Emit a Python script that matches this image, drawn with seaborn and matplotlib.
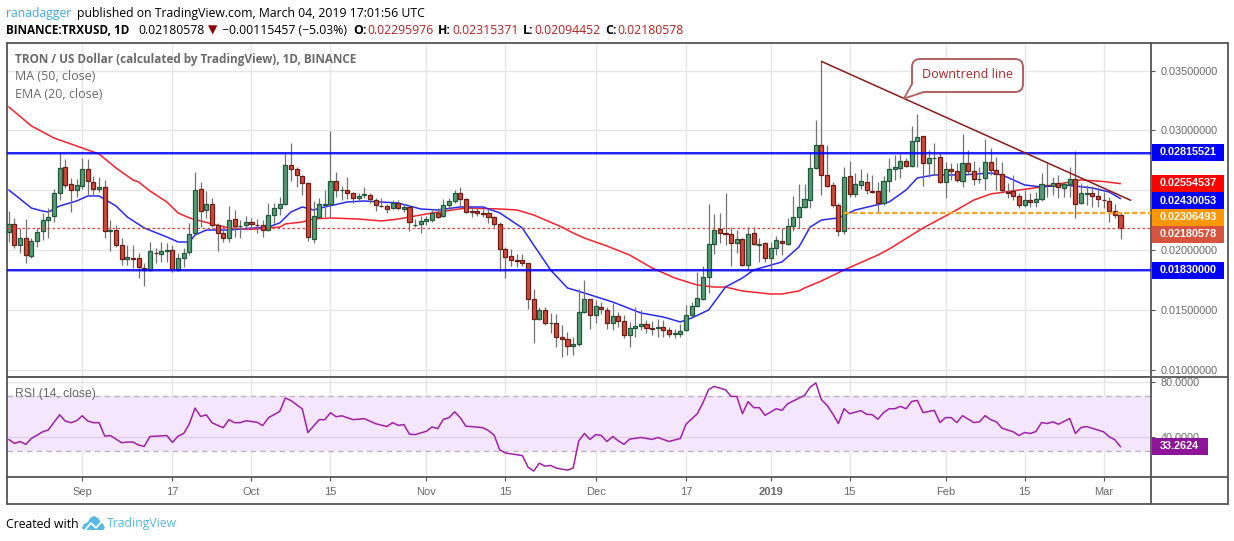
import numpy as np
import pandas as pd
import matplotlib
matplotlib.use('Agg')
import matplotlib.pyplot as plt
from matplotlib.patches import Rectangle, Polygon, FancyBboxPatch
from matplotlib.lines import Line2D
from matplotlib.transforms import IdentityTransform
import seaborn as sns

# daily candles, prices in thousandths of a dollar, first candle is 19 Aug 2018
opens = [21.48,22.15,20.40,20.98,19.53,20.73,21.57,22.49,22.82,24.75,
         26.93,25.50,25.00,25.33,26.76,25.67,25.08,25.25,21.57,21.65,
         20.40,19.22,19.33,19.31,18.47,18.30,19.78,19.64,19.89,19.98,
         18.30,19.31,19.81,21.40,25.08,23.33,23.83,22.07,21.40,20.98,
         22.57,21.99,22.07,22.32,22.12,22.07,21.65,22.91,23.49,23.83,
         27.09,26.76,26.17,25.59,20.90,22.74,23.80,23.83,25.75,24.98,
         25.00,24.75,24.33,24.58,24.58,24.16,23.71,23.66,23.49,23.91,
         23.41,23.58,22.08,22.21,22.41,22.49,23.07,22.82,23.74,24.08,
         24.75,24.25,23.27,23.24,23.09,23.07,22.74,22.15,20.06,19.48,
         19.14,19.14,18.89,15.88,14.20,14.96,13.85,13.87,12.70,12.53,
         11.94,12.11,14.79,15.88,14.54,15.21,14.96,13.87,14.45,14.04,
         12.86,13.45,13.62,13.78,13.46,13.50,13.53,13.28,13.00,12.98,
         13.28,14.54,15.29,15.88,17.72,20.48,21.74,21.40,21.32,20.56,
         20.90,18.72,21.40,20.45,20.56,19.31,20.15,20.73,20.48,21.97,
         22.72,23.56,24.17,26.83,28.75,26.24,25.40,23.73,21.55,26.16,
         24.65,25.40,25.65,24.93,24.90,23.90,25.74,26.74,26.83,27.41,
         26.99,29.09,29.50,27.24,27.66,27.75,25.65,26.74,26.57,25.74,
         27.24,26.57,25.92,25.99,27.33,26.66,26.32,24.87,24.90,24.48,
         23.73,24.15,23.98,24.23,25.46,25.32,25.57,25.15,25.49,25.90,
         23.90,24.70,24.73,24.48,24.20,24.06,23.23,22.96]
closes = [22.15,20.40,20.98,19.56,20.73,21.48,22.49,22.74,24.75,26.84,
          25.42,25.00,25.42,26.76,25.75,25.08,25.25,21.57,21.65,20.40,
          19.22,19.39,19.28,18.56,18.30,19.89,19.72,19.89,19.98,18.39,
          19.31,19.73,21.32,25.00,23.24,23.83,22.07,21.40,20.98,22.49,
          21.99,22.04,22.32,22.15,22.07,21.65,22.91,23.49,23.83,27.09,
          26.76,26.26,25.59,21.07,22.82,23.83,23.83,25.75,25.00,25.02,
          24.75,24.33,24.50,24.67,24.25,23.74,23.66,23.41,23.91,23.49,
          23.58,22.32,22.13,22.41,22.57,23.07,22.80,23.74,24.08,24.75,
          24.25,23.16,23.21,23.07,23.05,22.74,22.21,20.06,19.39,19.14,
          19.09,18.89,15.88,14.20,14.96,13.87,13.90,12.70,12.53,11.94,
          12.11,14.79,15.88,14.54,15.29,15.04,13.87,14.45,14.04,12.86,
          13.45,13.62,13.78,13.45,13.40,13.56,13.28,12.95,13.05,13.20,
          14.54,15.29,15.96,17.72,20.48,21.65,21.40,21.32,20.56,20.90,
          18.72,21.32,20.48,20.50,19.31,20.15,20.81,20.56,21.99,22.72,
          23.56,24.23,26.83,28.75,26.24,25.32,23.73,21.55,26.07,24.68,
          25.49,25.74,24.98,24.87,23.90,25.74,26.74,26.91,27.41,26.99,
          29.09,29.42,27.24,27.66,27.71,25.65,26.74,26.57,25.82,27.24,
          26.57,25.90,25.97,27.33,26.66,26.32,24.98,24.81,24.48,23.73,
          24.15,23.98,24.23,25.49,25.40,25.57,25.24,25.49,25.90,23.81,
          24.73,24.75,24.48,24.23,24.15,23.23,22.96,21.80]
highs = [23.27,22.66,21.82,22.57,20.98,21.82,23.07,23.49,25.08,28.24,
         27.59,26.00,25.92,27.68,27.59,26.20,26.14,25.87,22.52,22.10,
         20.98,20.42,20.42,19.73,18.89,20.65,20.15,20.70,20.56,20.42,
         19.73,20.15,22.24,26.51,25.67,24.94,24.33,22.24,22.10,23.66,
         23.35,22.52,22.85,22.66,22.57,22.52,23.91,23.91,24.47,28.04,
         28.93,26.98,26.28,25.73,24.11,24.33,25.03,29.97,26.51,25.36,
         26.09,24.89,24.80,25.25,24.75,24.33,24.33,23.86,24.19,24.19,
         23.86,23.77,22.57,22.85,22.85,23.41,23.49,24.25,24.33,25.03,
         25.31,24.33,23.58,23.49,23.41,23.41,22.85,22.32,20.23,20.06,
         19.67,19.67,18.95,16.71,15.26,15.26,14.71,14.65,13.70,13.17,
         12.70,16.71,17.49,15.88,15.82,15.68,15.26,15.54,14.85,14.57,
         14.01,15.21,14.99,14.15,14.09,14.20,14.15,13.59,13.37,13.81,
         15.40,15.68,18.19,18.67,23.86,23.02,23.07,24.75,21.96,21.68,
         20.98,21.96,21.90,20.98,20.70,20.70,21.18,21.82,22.66,24.51,
         25.49,25.49,28.22,30.87,35.78,28.78,25.71,23.90,26.96,27.44,
         26.41,26.74,26.41,26.27,25.71,26.18,27.66,27.94,28.03,27.66,
         30.37,31.34,29.53,28.36,28.92,28.08,27.38,27.24,27.24,29.67,
         28.36,27.47,26.96,29.25,28.50,27.75,27.38,25.57,26.27,24.79,
         25.01,24.73,24.87,26.46,27.24,26.13,26.27,25.71,26.96,28.28,
         25.57,25.43,25.35,25.24,24.87,24.45,23.84,23.15]
lows = [20.70,20.15,19.78,18.95,19.36,20.29,20.84,21.04,22.38,24.19,
        25.17,23.21,24.47,25.08,24.61,24.61,24.89,20.98,19.95,20.23,
        18.78,18.78,18.47,17.69,17.02,18.25,18.89,19.03,19.03,18.14,
        18.25,18.56,19.59,21.32,21.96,22.66,21.96,19.95,20.65,20.65,
        21.07,21.04,21.82,21.74,21.40,21.12,21.60,22.24,22.94,23.77,
        25.78,25.31,24.61,20.76,20.62,22.66,22.74,22.80,24.47,24.19,
        24.25,23.97,24.05,24.33,23.91,23.30,23.58,23.13,23.41,23.35,
        23.21,21.60,21.96,21.46,22.10,22.38,22.66,22.74,23.35,23.97,
        23.69,23.07,22.74,22.85,22.74,22.29,21.96,18.28,17.69,18.67,
        18.61,18.67,15.07,12.25,14.15,13.73,13.03,11.91,11.02,11.22,
        11.22,11.97,14.71,13.39,13.92,14.65,13.39,13.31,13.59,12.61,
        11.86,12.75,13.31,13.03,12.89,12.75,12.70,12.70,12.61,12.75,
        13.23,14.43,15.26,15.82,16.38,19.67,20.56,20.42,18.67,19.73,
        18.67,18.33,20.42,19.03,19.03,18.28,19.59,19.59,20.42,21.61,
        21.80,23.48,23.48,26.74,24.57,25.29,23.62,21.19,21.30,24.45,
        24.45,25.07,24.68,24.73,23.12,23.76,24.87,25.85,25.99,26.91,
        26.91,26.96,25.35,26.13,26.27,25.57,24.34,25.85,25.71,25.29,
        26.35,25.43,25.57,25.01,26.27,25.01,24.87,24.31,24.17,23.48,
        23.62,23.62,23.62,24.12,24.45,24.59,24.31,24.45,24.45,22.70,
        23.84,23.76,23.56,23.62,23.48,22.36,22.64,20.94]

# moving averages at these candles
ma_days = [0,4,8,13,16,19,22,23,25,28,30,32,36,39,43,48,49,52,54,57,62,66,69,75,81,87,90,93,
           98,100,102,106,110,114,118,122,125,127,130,135,137,140,141,144,148,154,156,162,
           167,171,174,179,183,188,190,194,197]
ma_values = [31.97,30.38,29.37,28.54,28.03,26.86,25.86,25.69,24.94,24.02,23.10,22.68,22.18,21.84,
             21.73,21.92,22.18,22.34,22.59,22.68,22.59,22.43,22.59,23.10,23.51,23.43,23.35,22.93,
             21.92,21.42,21.00,20.33,19.58,18.49,17.66,17.07,16.90,16.90,16.57,16.32,16.32,16.57,
             16.82,17.41,18.33,19.58,20.08,21.84,23.10,24.18,24.69,25.02,25.27,25.69,25.86,25.73,25.55]
ema_days = [0,2,4,6,7,9,12,14,16,19,21,24,28,30,32,33,35,39,41,46,48,50,52,54,56,60,63,69,73,76,
            80,84,87,91,93,96,99,102,107,112,116,119,121,124,127,130,132,137,140,142,144,147,150,
            156,159,161,164,169,174,176,180,183,187,192,195,197]
ema_values = [25.02,24.27,23.51,23.26,23.18,23.68,24.10,24.52,24.52,23.68,22.76,21.84,21.09,20.67,
              20.67,21.26,21.67,21.67,21.76,21.92,22.26,23.18,23.60,23.35,23.60,24.02,24.10,23.93,
              23.43,23.35,23.60,23.60,23.10,21.84,20.42,18.33,16.82,16.40,15.65,14.73,14.39,13.98,
              14.31,14.98,16.90,17.66,18.33,19.00,20.25,21.92,22.51,22.68,23.35,24.02,25.02,26.03,
              26.28,26.28,26.44,26.28,25.44,25.27,25.44,25.19,24.85,24.30]

rsi_days = [0,1,2,3,4,6,7,9,10,11,12,13,14,15,16,17,18,20,21,22,23,24,25,28,29,30,31,32,33,34,35,
            36,37,38,39,40,41,42,44,45,46,48,49,50,52,53,55,56,57,58,59,61,63,65,67,68,69,70,71,72,
            74,75,76,77,78,79,80,81,82,84,85,86,87,88,91,92,93,94,95,96,97,98,99,100,101,102,103,
            104,105,106,107,108,109,110,112,114,115,117,119,120,122,123,124,125,127,128,129,130,131,
            132,133,134,136,137,138,141,142,143,144,145,146,147,148,149,151,152,153,154,155,156,157,
            158,159,160,161,162,164,165,166,167,168,169,171,172,173,174,175,176,178,179,180,181,182,
            183,184,185,186,188,189,190,191,194,195,196,197]
rsi_values = [38.6,35.7,37.1,35.0,39.3,44.1,45.5,56.4,51.9,50.7,52.1,55.7,51.9,50.7,50.7,41.0,41.4,
              36.2,36.7,36.7,34.5,33.6,40.7,41.4,36.4,41.0,42.9,50.0,61.2,55.2,56.4,50.7,48.8,47.1,
              52.9,50.7,50.7,52.1,51.0,48.6,54.3,58.8,68.6,66.7,60.7,43.6,52.9,52.9,57.9,55.0,55.7,
              52.9,53.6,50.0,47.9,50.7,48.8,49.3,42.4,42.1,44.5,47.6,46.4,53.1,54.3,58.6,54.3,48.1,
              47.9,47.1,45.0,41.7,31.0,28.8,26.9,18.6,15.7,21.4,19.3,19.8,17.9,17.1,16.4,17.9,37.6,
              42.9,38.6,42.1,41.4,37.1,40.7,37.6,35.0,38.8,40.0,38.6,40.0,37.1,39.3,49.6,57.2,65.1,
              74.7,76.9,74.5,69.7,69.7,57.2,65.9,61.6,61.6,56.0,60.8,59.6,64.4,70.4,76.4,79.5,67.3,
              63.2,57.2,50.1,60.8,57.2,59.4,56.8,56.5,53.2,58.0,60.8,60.8,62.5,60.8,66.1,66.8,58.0,
              59.6,50.8,54.4,54.4,50.8,55.8,50.8,51.3,55.8,52.9,51.3,46.7,44.1,41.4,43.6,42.9,44.3,
              50.8,50.1,51.3,49.6,53.7,42.9,47.2,47.9,44.1,40.5,38.3,33.26]

price_ticks = [0.035, 0.030, 0.025, 0.020, 0.015, 0.010]
date_tick_days = [13, 29, 43, 57, 74, 88, 104, 120, 135, 149, 166, 180, 194]
date_tick_labels = ['Sep', '17', 'Oct', '15', 'Nov', '15', 'Dec', '17', '2019', '15', 'Feb', '15', 'Mar']
rsi_ticks = [80, 40]

support_level = 0.0183
resistance_level = 0.02815521
orange_level = 0.02306493
last_close = 0.02180578
trend_days = [144, 198.8]
trend_values = [0.03578, 0.02416]
orange_start_day = 148

GREY = '#6a6a6a'
FRAME = '#555555'
UP = '#5a9a78'
UP_EDGE = '#1f5a3a'
DOWN = '#d0493a'
DOWN_EDGE = '#6e1c16'
CALLOUT = '#b06060'

PANEL_TOP = 43
PANEL_MID = 376.8
PANEL_BOTTOM = 477.3
FRAME_BOTTOM = 504
SCALE_LEFT = 1151
SCALE_RIGHT = 1228


def px(x, y):
    # figure fraction from pixel position, y counted from the top like the screenshot
    return x / 1234, 1 - y / 541


sns.set_style('white')
plt.rcParams['font.family'] = ['Liberation Sans', 'DejaVu Sans']

candles = pd.DataFrame({'open': opens, 'high': highs, 'low': lows, 'close': closes}) * 0.001
candles['day'] = range(len(candles))
candles['bottom'] = candles[['open', 'close']].min(axis=1)
candles['height'] = (candles['close'] - candles['open']).abs().clip(lower=0.00004)
rising = candles['close'] >= candles['open']
ma_line = pd.DataFrame({'day': ma_days, 'price': np.array(ma_values) * 0.001})
ema_line = pd.DataFrame({'day': ema_days, 'price': np.array(ema_values) * 0.001})
rsi_line = pd.DataFrame({'day': rsi_days, 'rsi': rsi_values})

fig = plt.figure(figsize=(12.34, 5.41), dpi=100)
x0, y0 = px(6.5, PANEL_MID)
ax = fig.add_axes([x0, y0, (SCALE_LEFT - 6.5) / 1234, (PANEL_MID - PANEL_TOP) / 541])
x0, y0 = px(6.5, PANEL_BOTTOM)
ax_rsi = fig.add_axes([x0, y0, (SCALE_LEFT - 6.5) / 1234, (PANEL_BOTTOM - PANEL_MID) / 541], sharex=ax)

# price panel
ax.set_xlim(-0.41, 202.4)
ax.set_ylim(0.00939, 0.03732)
ax.grid(True, color='#e6e6e6', lw=1)
ax.set_axisbelow(True)
ax.vlines(candles['day'], candles['low'], candles['high'], color='#737373', lw=0.9, zorder=3)
for mask, face, edge in [(rising, UP, UP_EDGE), (~rising, DOWN, DOWN_EDGE)]:
    part = candles[mask]
    ax.bar(part['day'], part['height'], bottom=part['bottom'], width=0.72,
           color=face, edgecolor=edge, linewidth=0.9, zorder=4)
sns.lineplot(data=ma_line, x='day', y='price', ax=ax, color='#f5222d', lw=1.1, estimator=None, zorder=2.5)
sns.lineplot(data=ema_line, x='day', y='price', ax=ax, color='#2a2af5', lw=1.1, estimator=None, zorder=2.5)
for level in [resistance_level, support_level]:
    ax.axhline(level, color='#0000ff', lw=2.2, alpha=0.4, zorder=5)
    ax.axhline(level, color='#0000ff', lw=1.1, zorder=5)
ax.axhline(last_close, color='#ef3b2c', lw=0.9, ls=(0, (2, 2)), zorder=5)
ax.plot([orange_start_day, 202.4], [orange_level, orange_level], color='#ffa726', lw=1.6,
        ls=(0, (2.4, 1.2)), zorder=5)
ax.plot(trend_days, trend_values, color='#8b1a1a', lw=1.1, zorder=6)

ax.yaxis.tick_right()
ax.set_yticks(price_ticks)
ax.set_yticklabels([f'{t:.8f}' for t in price_ticks], color=GREY, fontsize=7.8)
ax.tick_params(axis='y', length=3, color=FRAME, pad=4, right=True)
ax.tick_params(axis='x', length=0, labelbottom=False)
ax.set_xlabel('')
ax.set_ylabel('')

# rsi panel
ax_rsi.set_ylim(11.2, 83.9)
ax_rsi.grid(True, color='#e6e6e6', lw=1)
ax_rsi.set_axisbelow(True)
ax_rsi.axhspan(30, 70, color='#f3e6fd', zorder=1, lw=0)
ax_rsi.axhline(40, color='#e0cfe8', lw=1, zorder=1.5)
ax_rsi.axhline(70, color='#c2afc8', lw=1, ls=(0, (4, 3)), zorder=1.5)
ax_rsi.axhline(30, color='#c2afc8', lw=1, ls=(0, (4, 3)), zorder=1.5)
sns.lineplot(data=rsi_line, x='day', y='rsi', ax=ax_rsi, color='#a020a8', lw=1.1, estimator=None, zorder=3)
ax_rsi.yaxis.tick_right()
ax_rsi.set_yticks(rsi_ticks)
ax_rsi.set_yticklabels([f'{t:.4f}' for t in rsi_ticks], color=GREY, fontsize=7.8)
ax_rsi.tick_params(axis='y', length=3, color=FRAME, pad=4, right=True)
ax_rsi.set_xticks(date_tick_days)
ax_rsi.set_xticklabels(date_tick_labels, color=GREY, fontsize=8)
ax_rsi.tick_params(axis='x', length=3, color=FRAME, pad=4, bottom=True)
ax_rsi.get_xticklabels()[8].set_fontweight('bold')
ax_rsi.set_xlabel('')
ax_rsi.set_ylabel('')

for a in [ax, ax_rsi]:
    for spine in a.spines.values():
        spine.set_color(FRAME)
        spine.set_linewidth(1.3)
        spine.set_visible(True)


def frame_line(x1, y1, x2, y2):
    (fx1, fy1), (fx2, fy2) = px(x1, y1), px(x2, y2)
    fig.add_artist(Line2D([fx1, fx2], [fy1, fy2], color=FRAME, lw=1.3))


# outer frame round the price and date scales
for y in [PANEL_TOP, PANEL_MID, PANEL_BOTTOM]:
    frame_line(SCALE_LEFT, y, SCALE_RIGHT, y)
frame_line(6.5, FRAME_BOTTOM, SCALE_RIGHT, FRAME_BOTTOM)
frame_line(6.5, PANEL_BOTTOM, 6.5, FRAME_BOTTOM)
frame_line(SCALE_LEFT, PANEL_BOTTOM, SCALE_LEFT, FRAME_BOTTOM)
frame_line(SCALE_RIGHT, PANEL_TOP, SCALE_RIGHT, FRAME_BOTTOM)


def badge(y_top, y_bottom, text, color, x_right=1224):
    left, bottom = px(1152, y_bottom)
    fig.add_artist(Rectangle((left, bottom), (x_right - 1152) / 1234, (y_bottom - y_top) / 541,
                             transform=fig.transFigure, color=color, lw=0, zorder=4))
    tx, ty = px(1160, (y_top + y_bottom) / 2)
    fig.text(tx, ty, text, color='white', fontsize=7.8, fontweight='bold', va='center', zorder=5)


badge(144, 160.7, '0.02815521', '#0000ff')
badge(175, 191.7, '0.02554537', '#ff0000')
badge(192, 209, '0.02430053', '#0000ff')
badge(209, 226, '0.02306493', '#ff9800')
badge(226, 242.7, '0.02180578', '#d6543f')
badge(262, 278.7, '0.01830000', '#0000ff')
badge(437.7, 455, '33.2624', '#8e1599', x_right=1208)

# callout box with its tail, in screen pixels
box = FancyBboxPatch((922, 541 - 82), 91, 13, boxstyle='round,pad=10,rounding_size=8',
                     transform=IdentityTransform(), fc='white', ec=CALLOUT, lw=1.4, zorder=6)
fig.add_artist(box)
tail = [(913.5, 541 - 82), (904, 541 - 98.5), (925, 541 - 90.5), (925, 541 - 85)]
fig.add_artist(Polygon(tail, closed=False, transform=IdentityTransform(), fc='white', ec='none', zorder=6))
fig.add_artist(Line2D([912.5, 904, 924], [541 - 83, 541 - 98.5, 541 - 92], transform=IdentityTransform(),
                      color=CALLOUT, lw=1.3, zorder=7))
tx, ty = px(967.5, 75)
fig.text(tx, ty, 'Downtrend line', ha='center', va='center', color='#a52a2a', fontsize=9,
         family='Open Sans', zorder=8)

# legends inside the chart
for y, text, weight, size in [(60, 'TRON / US Dollar (calculated by TradingView), 1D, BINANCE', 'bold', 8.5),
                              (77, 'MA (50, close)', 'normal', 9), (94, 'EMA (20, close)', 'normal', 9)]:
    tx, ty = px(15, y)
    fig.text(tx, ty, text, color=GREY, fontsize=size, fontweight=weight, va='center', family='Open Sans')
tx, ty = px(15, 394)
fig.text(tx, ty, 'RSI (14, close)', color=GREY, fontsize=8.8, va='center')


def header(x, y, text, color='black', weight='normal', size=8.8):
    tx, ty = px(x, y)
    fig.text(tx, ty, text, color=color, fontsize=size, fontweight=weight, va='center',
             family=['Open Sans', 'DejaVu Sans'])


header(6, 13, 'ranadagger', color='#3fa9e0')
header(77, 13, 'published on TradingView.com, March 04, 2019 17:01:56 UTC')
header(6, 30, 'BINANCE:TRXUSD, 1D', weight='bold', size=8.5)
header(138, 30, '0.02180578')
header(208, 30, '\u25bc', color='#8b0000')
header(222, 30, '\u22120.00115457 (\u22125.03%)')
header(353, 30, 'O:', weight='bold')
header(367, 30, '0.02295976', color='#b22222')
header(438, 30, 'H:', weight='bold')
header(452, 30, '0.02315371', color='#b22222')
header(523, 30, 'L:', weight='bold')
header(534, 30, '0.02094452', color='#b22222')
header(605, 30, 'C:', weight='bold')
header(617, 30, '0.02180578', color='#b22222')

# footer
header(6, 524, 'Created with')
header(106.5, 524, 'TradingView', color='#55b9e6')
logo = [(82, 528), (84, 524), (88, 522), (90, 518), (94, 516), (98, 518), (100, 521), (103, 524),
        (105, 528), (103, 530), (84, 530)]
fig.add_artist(Polygon([px(*p) for p in logo], transform=fig.transFigure, color='#55b9e6', lw=0))
zigzag = [px(*p) for p in [(85, 530), (91, 523), (96, 528), (102, 521)]]
fig.add_artist(Line2D([p[0] for p in zigzag], [p[1] for p in zigzag], color='white', lw=1.3))

fig.savefig('out.png', dpi=100)
